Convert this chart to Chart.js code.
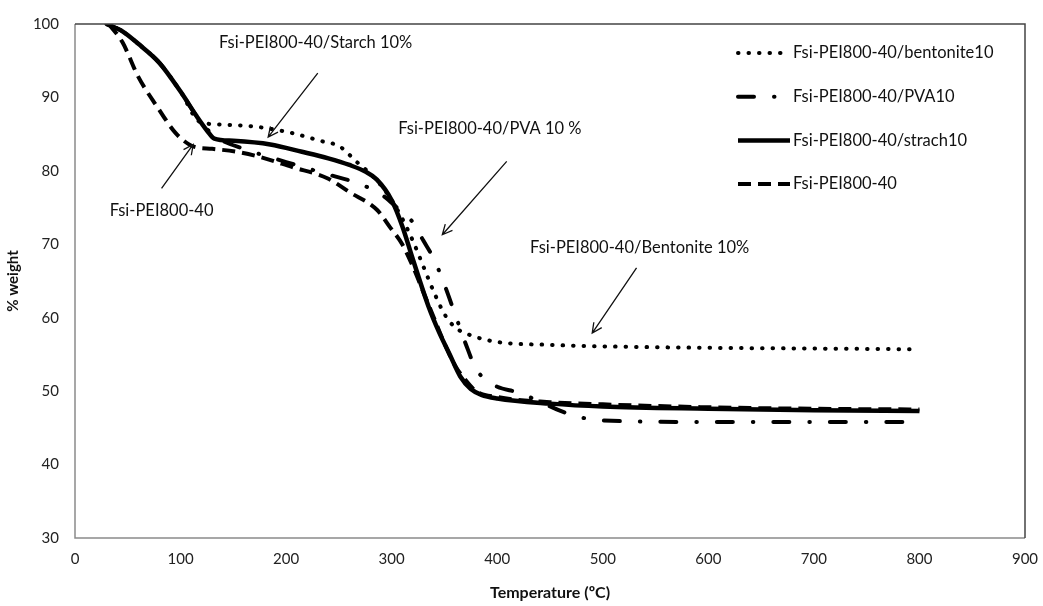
<!DOCTYPE html>
<html>
<head>
<meta charset="utf-8">
<script src="https://cdn.jsdelivr.net/npm/chart.js@4"></script>
<style>
  html, body { margin: 0; padding: 0; background: #fff; }
  #wrap { width: 1043px; height: 606px; }
</style>
</head>
<body>
<div id="wrap"><canvas id="tgaChart" width="1043" height="606"></canvas></div>
<script>
// series: temperature (°C) and weight (%)
const bentoniteTemp = [30, 45, 60, 80, 100, 118, 140, 172, 204, 232, 251, 267, 276, 290, 300, 310, 320, 330, 340, 350, 360, 375, 400, 450, 500, 600, 700, 800];
const bentoniteWeight = [100, 99, 97.3, 94.7, 90.8, 86.7, 86.3, 86, 85.2, 84.1, 83.3, 81.2, 80.1, 78, 76, 73.5, 70.5, 67, 63.5, 60.5, 58.7, 57.6, 56.7, 56.3, 56.1, 55.9, 55.8, 55.7];

const pvaTemp = [30, 45, 60, 80, 100, 120, 135, 160, 200, 240, 270, 290, 305, 320, 330, 340, 350, 360, 370, 380, 390, 400, 420, 440, 460, 480, 500, 600, 700, 800];
const pvaWeight = [100, 99, 97.3, 94.7, 90.8, 86.5, 84.5, 83, 81.2, 79.5, 78.2, 76.8, 75, 73, 70.5, 68, 64.5, 60.5, 56.5, 53, 51.5, 50.6, 49.8, 48.6, 47.3, 46.4, 46, 45.8, 45.8, 45.8];

const starchTemp = [30, 45, 60, 80, 100, 115, 125, 132, 150, 185, 215, 240, 260, 275, 286, 300, 310, 320, 335, 345, 355, 365, 375, 385, 400, 450, 500, 600, 700, 800];
const starchWeight = [100, 99, 97.3, 94.7, 90.8, 87.5, 85.5, 84.4, 84.1, 83.6, 82.6, 81.7, 80.8, 79.9, 78.8, 76, 72.5, 68, 61.5, 58, 55, 52, 50.3, 49.5, 49, 48.3, 47.9, 47.6, 47.4, 47.3];

const peiTemp = [32, 45, 60, 78, 95, 108, 115, 130, 153, 175, 206, 239, 260, 286, 298, 310, 320, 330, 340, 350, 360, 370, 380, 400, 450, 500, 600, 700, 800];
const peiWeight = [100, 97.5, 92.8, 88.7, 85.2, 83.6, 83.2, 83, 82.6, 81.9, 80.5, 79, 77.1, 74.7, 72.4, 70, 67, 63.5, 60, 56.5, 53.5, 51.5, 50, 49.2, 48.5, 48.2, 47.8, 47.6, 47.5];

const seriesNames = ['Fsi-PEI800-40/bentonite10', 'Fsi-PEI800-40/PVA10', 'Fsi-PEI800-40/strach10', 'Fsi-PEI800-40'];

const xTicks = [0, 100, 200, 300, 400, 500, 600, 700, 800, 900];
const yTicks = [30, 40, 50, 60, 70, 80, 90, 100];

// callouts: label, label position, arrow from -> to (data units)
const callouts = [
  { text: 'Fsi-PEI800-40/Starch 10%', at: [228, 97.4], from: [230, 93.3], to: [183, 84.6] },
  { text: 'Fsi-PEI800-40', at: [82, 74.6], from: [82, 77.6], to: [112, 83.6] },
  { text: 'Fsi-PEI800-40/PVA 10 %', at: [393, 85.7], from: [409, 81.3], to: [348, 71.3] },
  { text: 'Fsi-PEI800-40/Bentonite 10%', at: [535, 69.5], from: [532, 66.8], to: [490, 57.9] }
];

const FONT = 'Lato, "Open Sans", sans-serif';

function pts(xs, ys) {
  return xs.map((x, i) => ({ x: x, y: ys[i] }));
}

const styles = [
  { borderWidth: 4, borderDash: [0.5, 10], borderCapStyle: 'round' },
  { borderWidth: 4, borderDash: [16, 20, 0.5, 20], borderCapStyle: 'round' },
  { borderWidth: 4.5, borderDash: [], borderCapStyle: 'butt' },
  { borderWidth: 4, borderDash: [13, 7], borderCapStyle: 'butt' }
];

const datasets = [
  pts(bentoniteTemp, bentoniteWeight),
  pts(pvaTemp, pvaWeight),
  pts(starchTemp, starchWeight),
  pts(peiTemp, peiWeight)
].map((d, i) => Object.assign({
  label: seriesNames[i],
  data: d,
  borderColor: '#000',
  backgroundColor: '#000',
  pointRadius: 0,
  cubicInterpolationMode: 'monotone',
  fill: false
}, styles[i]));

const overlay = {
  id: 'overlay',
  afterDraw(chart) {
    const ctx = chart.ctx;
    const xs = chart.scales.x, ys = chart.scales.y;
    const a = chart.chartArea;

    ctx.save();
    // plot frame
    ctx.strokeStyle = '#8a8a8a';
    ctx.lineWidth = 1.5;
    ctx.setLineDash([]);
    ctx.beginPath();
    ctx.moveTo(a.left, a.top);
    ctx.lineTo(a.left, a.bottom);
    ctx.lineTo(a.right, a.bottom);
    ctx.stroke();
    ctx.strokeStyle = '#444';
    ctx.beginPath();
    ctx.moveTo(a.left, a.top);
    ctx.lineTo(a.right, a.top);
    ctx.lineTo(a.right, a.bottom);
    ctx.stroke();

    // legend inside the plot
    ctx.font = '16.5px ' + FONT;
    ctx.fillStyle = '#111';
    ctx.textBaseline = 'middle';
    ctx.textAlign = 'left';
    const lx = a.left + 663, ly = a.top + 29;
    datasets.forEach((ds, i) => {
      const y = ly + i * 43.7;
      ctx.strokeStyle = '#000';
      ctx.lineWidth = ds.borderWidth;
      ctx.lineCap = ds.borderCapStyle;
      ctx.setLineDash(ds.borderDash);
      ctx.beginPath();
      ctx.moveTo(lx, y);
      ctx.lineTo(lx + 52, y);
      ctx.stroke();
      ctx.fillText(ds.label, lx + 55, y);
    });

    // callout labels and arrows
    ctx.setLineDash([]);
    ctx.lineCap = 'butt';
    ctx.lineWidth = 1.3;
    ctx.strokeStyle = '#111';
    ctx.textAlign = 'center';
    callouts.forEach(c => {
      ctx.fillText(c.text, xs.getPixelForValue(c.at[0]), ys.getPixelForValue(c.at[1]));
      const x1 = xs.getPixelForValue(c.from[0]), y1 = ys.getPixelForValue(c.from[1]);
      const x2 = xs.getPixelForValue(c.to[0]), y2 = ys.getPixelForValue(c.to[1]);
      const ang = Math.atan2(y2 - y1, x2 - x1);
      ctx.beginPath();
      ctx.moveTo(x1, y1);
      ctx.lineTo(x2, y2);
      ctx.moveTo(x2 - 11 * Math.cos(ang - 0.45), y2 - 11 * Math.sin(ang - 0.45));
      ctx.lineTo(x2, y2);
      ctx.lineTo(x2 - 11 * Math.cos(ang + 0.45), y2 - 11 * Math.sin(ang + 0.45));
      ctx.stroke();
    });
    ctx.restore();
  }
};

new Chart(document.getElementById('tgaChart'), {
  type: 'line',
  data: { datasets: datasets },
  options: {
    responsive: false,
    animation: false,
    layout: { padding: { left: 0, right: 18, top: 24, bottom: 0 } },
    plugins: { legend: { display: false }, tooltip: { enabled: false } },
    scales: {
      x: {
        type: 'linear',
        min: 0, max: 900,
        afterBuildTicks: s => { s.ticks = xTicks.map(v => ({ value: v })); },
        afterFit: s => { s.height = 68; s.paddingLeft = 0; s.paddingRight = 0; },
        grid: { display: false, drawTicks: false },
        border: { display: false },
        ticks: { color: '#222', font: { family: FONT, size: 15 }, padding: 12, maxRotation: 0 },
        title: { display: true, text: 'Temperature (ºC)', color: '#111', font: { family: FONT, size: 16, weight: 'bold' }, padding: { top: 4 } }
      },
      y: {
        min: 30, max: 100,
        afterBuildTicks: s => { s.ticks = yTicks.map(v => ({ value: v })); },
        afterFit: s => { s.width = 75; s.paddingTop = 0; s.paddingBottom = 0; },
        grid: { display: false, drawTicks: false },
        border: { display: false },
        ticks: { color: '#222', font: { family: FONT, size: 15 }, padding: 16 },
        title: { display: true, text: '% weight', color: '#111', font: { family: FONT, size: 15, weight: 'bold' }, padding: { bottom: 2 } }
      }
    }
  },
  plugins: [overlay]
});
</script>
</body>
</html>
